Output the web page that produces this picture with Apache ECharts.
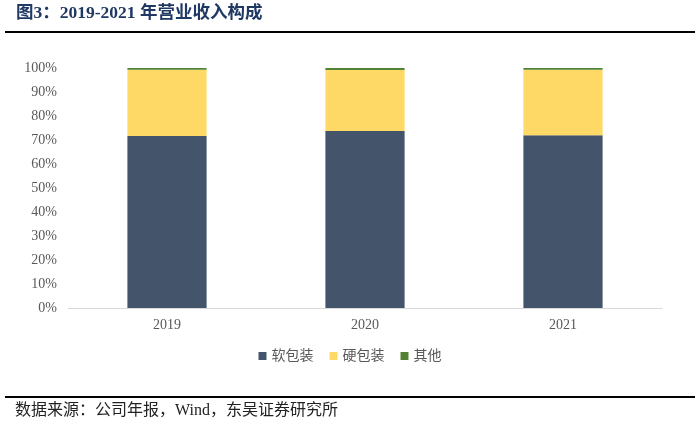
<!DOCTYPE html>
<html><head><meta charset="utf-8">
<script src="https://cdn.jsdelivr.net/npm/echarts@6/dist/echarts.min.js"></script>
<style>html,body{margin:0;padding:0;background:#fff}#c{width:700px;height:425px}</style>
</head><body><div id="c"></div>
<script>
const categories = ['2019', '2020', '2021'];
const softPack = [71.7, 73.7, 72.0];
const hardPack = [27.6, 25.5, 27.3];
const others = [0.7, 0.8, 0.7];
const seriesNames = ['软包装', '硬包装', '其他'];

const chart = echarts.init(document.getElementById('c'));
const serif = '"Liberation Serif", "Noto Sans CJK SC", serif';
const cjk = '"Liberation Serif", "Noto Sans CJK SC", serif';
chart.setOption({
  animation: false,
  backgroundColor: '#fff',
  grid: { left: 68, right: 38, top: 68, bottom: 117 },
  legend: {
    data: seriesNames, bottom: 57, left: 'center', itemWidth: 8, itemHeight: 8, itemGap: 16,
    icon: 'rect', textStyle: { fontFamily: cjk, fontSize: 14, color: '#595959' }
  },
  xAxis: {
    type: 'category', data: categories,
    axisLine: { lineStyle: { color: '#d9d9d9', width: 1 } },
    axisTick: { show: false },
    axisLabel: { fontFamily: serif, fontSize: 14, color: '#595959', margin: 10 }
  },
  yAxis: {
    type: 'value', min: 0, max: 100, interval: 10,
    splitLine: { show: false },
    axisLine: { show: false }, axisTick: { show: false },
    axisLabel: { formatter: '{value}%', fontFamily: serif, fontSize: 14, color: '#595959', margin: 11 }
  },
  series: [
    { name: seriesNames[0], type: 'bar', stack: 't', data: softPack, barWidth: '40%', itemStyle: { color: '#44546a' } },
    { name: seriesNames[1], type: 'bar', stack: 't', data: hardPack, itemStyle: { color: '#ffd966' } },
    { name: seriesNames[2], type: 'bar', stack: 't', data: others, itemStyle: { color: '#548235' } }
  ],
  graphic: [
    { type: 'text', left: 16, top: 5, style: { text: '图3：2019-2021 年营业收入构成', font: 'bold 17.5px ' + serif, fill: '#1f3864' } },
    { type: 'rect', shape: { x: 5, y: 31, width: 690, height: 2 }, style: { fill: '#000' } },
    { type: 'rect', shape: { x: 5, y: 396, width: 690, height: 2 }, style: { fill: '#000' } },
    { type: 'text', left: 15, top: 403, style: { text: '数据来源：公司年报，Wind，东吴证券研究所', font: '16px ' + cjk, fill: '#222' } }
  ]
});
</script></body></html>
